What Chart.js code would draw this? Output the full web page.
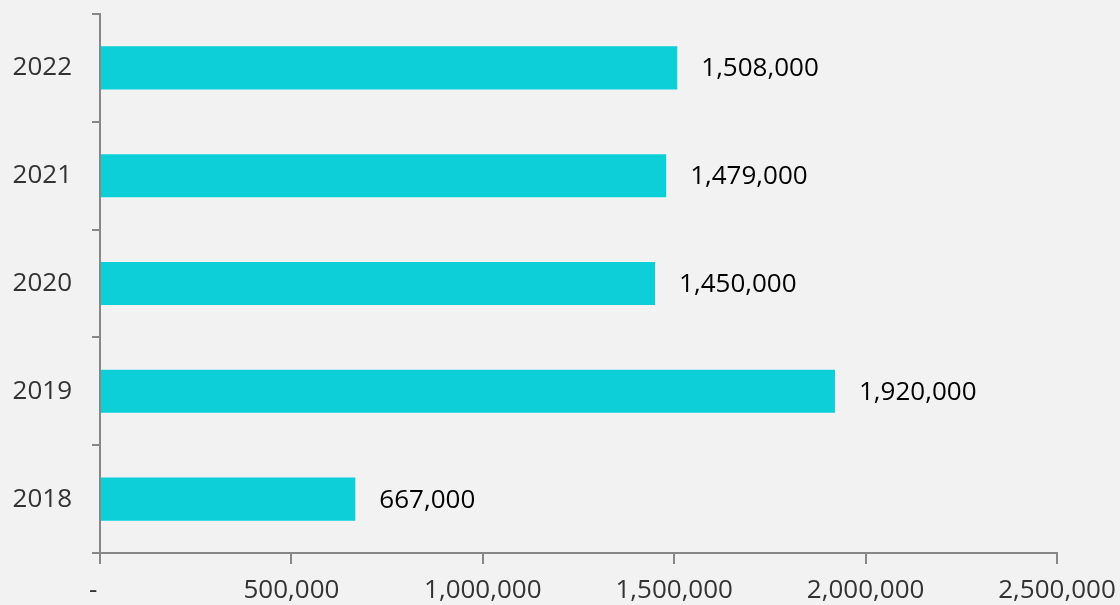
<!DOCTYPE html>
<html>
<head>
<meta charset="utf-8">
<script src="https://cdn.jsdelivr.net/npm/chart.js@4"></script>
<style>
  html, body { margin: 0; padding: 0; background: #f2f2f2; }
  #wrap { width: 1120px; height: 605px; }
</style>
</head>
<body>
<div id="wrap"><canvas id="myChart" width="1120" height="605"></canvas></div>
<script>
const years = ['2018', '2019', '2020', '2021', '2022'];
const values = [667000, 1920000, 1450000, 1479000, 1508000];
const xTicks = [0, 500000, 1000000, 1500000, 2000000, 2500000];

const axisGray = '#878787';
const fontFamily = '"Open Sans", sans-serif';

function fmt(v) {
	return v === 0 ? '-' : v.toLocaleString('en-US');
}

// 막대 끝에 값 표시
const valueLabels = {
	id: 'valueLabels',
	afterDatasetsDraw(chart) {
		const ctx = chart.ctx;
		const meta = chart.getDatasetMeta(0);
		ctx.save();
		ctx.font = '26px ' + fontFamily;
		ctx.fillStyle = '#000000';
		ctx.textAlign = 'left';
		ctx.textBaseline = 'middle';
		meta.data.forEach(function (bar, i) {
			ctx.fillText(fmt(values[i]), bar.x + 24, bar.y + 1);
		});
		ctx.restore();
	}
};

const bgFill = {
	id: 'bgFill',
	beforeDraw(chart) {
		const ctx = chart.ctx;
		ctx.save();
		ctx.fillStyle = '#f2f2f2';
		ctx.fillRect(0, 0, chart.width, chart.height);
		ctx.restore();
	}
};

const config = {
	type: 'bar',
	plugins: [bgFill, valueLabels],
	data: {
		labels: years,
		datasets: [{
			data: values,
			backgroundColor: '#0dcfd8',
			barPercentage: 0.4,
			categoryPercentage: 1.0
		}]
	},
	options: {
		indexAxis: 'y',
		responsive: false,
		animation: false,
		layout: { padding: { top: 14, right: 63, left: 0, bottom: 0 } },
		plugins: {
			legend: { display: false },
			tooltip: { enabled: false }
		},
		scales: {
			x: {
				min: 0,
				max: 2500000,
				afterBuildTicks(scale) {
					scale.ticks = xTicks.map(v => ({ value: v }));
				},
				afterFit(scale) {
					scale.height = 52;
					scale.paddingLeft = 0;
					scale.paddingRight = 0;
				},
				border: { color: axisGray, width: 2 },
				grid: {
					drawOnChartArea: false,
					color: axisGray,
					tickColor: axisGray,
					tickLength: 11,
					lineWidth: 2
				},
				ticks: {
					autoSkip: false,
					maxRotation: 0,
					padding: 11,
					color: '#333333',
					font: { family: fontFamily, size: 26, weight: 400 },
					// 0 은 회계 서식처럼 '-' 로, 살짝 왼쪽으로
					callback: function (v) { return v === 0 ? '-  ' : fmt(v); }
				}
			},
			y: {
				reverse: true,
				afterFit(scale) {
					scale.width = 100;
					scale.paddingTop = 0;
					scale.paddingBottom = 0;
				},
				border: { color: axisGray, width: 2 },
				grid: {
					offset: true,
					drawOnChartArea: false,
					color: axisGray,
					tickColor: axisGray,
					tickLength: 8,
					lineWidth: 2
				},
				ticks: {
					padding: 20,
					color: '#333333',
					font: { family: fontFamily, size: 26, weight: 400 }
				}
			}
		}
	}
};

new Chart(document.getElementById('myChart').getContext('2d'), config);
</script>
</body>
</html>
